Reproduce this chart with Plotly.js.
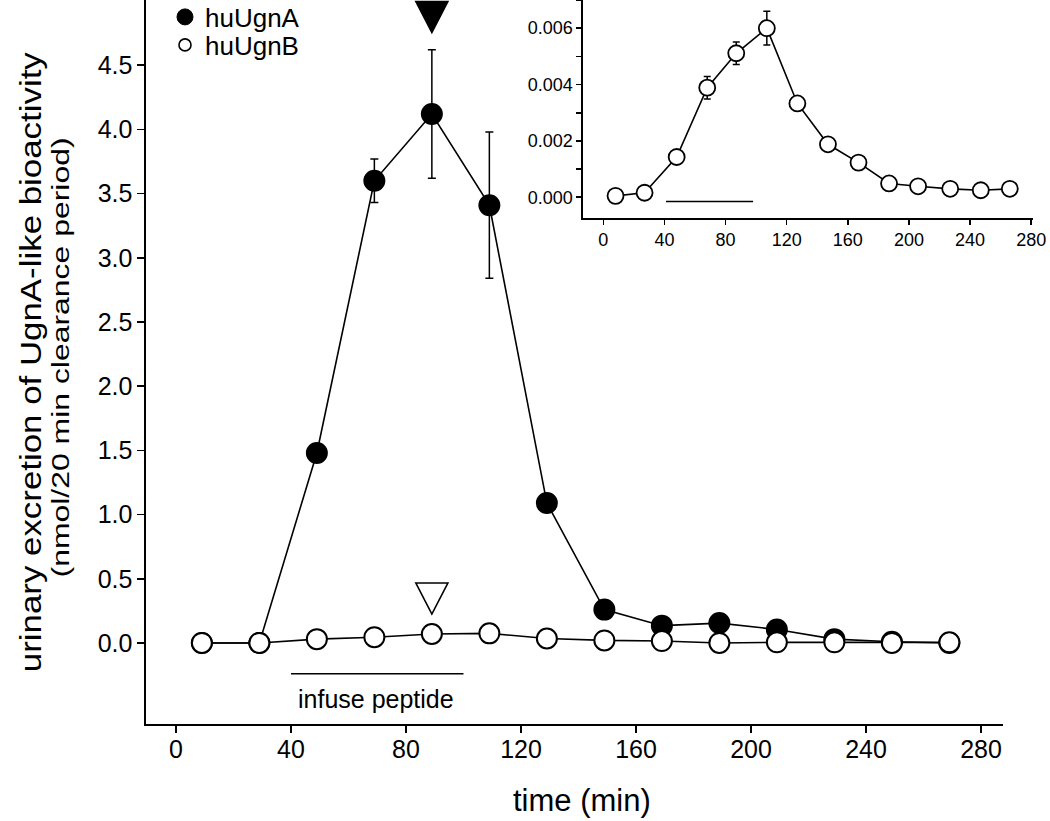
<!DOCTYPE html>
<html>
<head>
<meta charset="utf-8">
<script src="https://cdn.plot.ly/plotly-3.0.1.min.js"></script>
<style>
  html, body { margin: 0; padding: 0; background: #fff; }
  #chart { width: 1050px; height: 821px; }
</style>
</head>
<body>
<div id="chart"></div>
<script>
// ---------- data ----------
const time = [9, 29, 49, 69, 89, 109, 129, 149, 169, 189, 209, 229, 249, 269];
const huUgnA = [0.00, 0.00, 1.48, 3.60, 4.12, 3.41, 1.09, 0.26, 0.135, 0.155, 0.105, 0.03, 0.01, 0.00];
const huUgnAErr = [0, 0, 0, 0.17, 0.50, 0.57, 0, 0, 0, 0, 0, 0, 0, 0];
const huUgnB = [0.00, 0.00, 0.03, 0.045, 0.07, 0.075, 0.035, 0.02, 0.015, 0.00, 0.005, 0.005, 0.00, 0.005];

const insetTime = [8, 27, 48, 68, 87, 107, 127, 147, 167, 187, 206, 227, 247, 266];
const insetB = [0.00005, 0.00016, 0.00143, 0.00389, 0.00511, 0.0060, 0.00333, 0.00188, 0.00123, 0.00049, 0.00039, 0.00030, 0.00025, 0.00030];
const insetBErr = [0, 0, 0, 0.0004, 0.0004, 0.0006, 0, 0, 0, 0, 0, 0, 0, 0];

const infuseX = [40, 100];
const infuseY = [-0.24, -0.24];
const infuseLabel = 'infuse peptide';
const infuseLabelX = 69.5;
const infuseLabelY = -0.44;

const insetInfuseX = [41, 98];
const insetInfuseY = [-0.00015, -0.00015];

const triX = [89, 89];
const triY = [4.88, 0.35];
const triFill = ['black', 'white'];

const seriesNames = ['huUgnA', 'huUgnB'];
const xTitle = 'time (min)';
const yTitle = 'urinary excretion of UgnA-like bioactivity';
const ySubTitle = '(nmol/20 min clearance period)';

const mainXTicks = [0, 40, 80, 120, 160, 200, 240, 280];
const mainYTicks = [0, 0.5, 1, 1.5, 2, 2.5, 3, 3.5, 4, 4.5];
const insetXTicks = [0, 40, 80, 120, 160, 200, 240, 280];
const insetYTicks = [0, 0.002, 0.004, 0.006];

// ---------- style ----------
const FONT = 'Liberation Sans, Arial, Helvetica, sans-serif';
const LW = 1.6;

const traces = [
  {
    x: infuseX, y: infuseY, mode: 'lines', xaxis: 'x', yaxis: 'y',
    line: { color: 'black', width: LW }, showlegend: false, hoverinfo: 'skip'
  },
  {
    x: time, y: huUgnA, mode: 'lines+markers', name: seriesNames[0], xaxis: 'x', yaxis: 'y',
    line: { color: 'black', width: LW },
    marker: { symbol: 'circle', size: 20, color: 'black', line: { color: 'black', width: 2 } },
    error_y: { type: 'data', array: huUgnAErr, visible: true, color: 'black', thickness: 1.5, width: 4 },
    showlegend: false
  },
  {
    x: time, y: huUgnB, mode: 'lines+markers', name: seriesNames[1], xaxis: 'x', yaxis: 'y',
    line: { color: 'black', width: LW },
    marker: { symbol: 'circle', size: 20, color: 'white', line: { color: 'black', width: 2 } },
    showlegend: false
  },
  // inset
  {
    x: insetInfuseX, y: insetInfuseY, mode: 'lines', xaxis: 'x2', yaxis: 'y2',
    line: { color: 'black', width: LW }, showlegend: false, hoverinfo: 'skip'
  },
  {
    x: insetTime, y: insetB, mode: 'lines+markers', name: seriesNames[1], xaxis: 'x2', yaxis: 'y2',
    line: { color: 'black', width: LW },
    marker: { symbol: 'circle', size: 16, color: 'white', line: { color: 'black', width: 1.8 } },
    error_y: { type: 'data', array: insetBErr, visible: true, color: 'black', thickness: 1.5, width: 3.5 },
    showlegend: false
  },
  // legend-only entries
  {
    x: [null], y: [null], mode: 'markers', name: seriesNames[0], xaxis: 'x', yaxis: 'y',
    legend: 'legend',
    marker: { symbol: 'circle', size: 16, color: 'black', line: { color: 'black', width: 1 } }
  },
  {
    x: [null], y: [null], mode: 'markers', name: seriesNames[1], xaxis: 'x', yaxis: 'y',
    legend: 'legend2',
    marker: { symbol: 'circle', size: 12, color: 'white', line: { color: 'black', width: 1.6 } }
  }
];

// triangles: anchored at data coordinates, drawn with fixed pixel size
const shapes = triX.map((tx, i) => ({
  type: 'path', xref: 'x', yref: 'y',
  xsizemode: 'pixel', ysizemode: 'pixel',
  xanchor: tx, yanchor: triY[i],
  path: 'M-16,15 L16,15 L0,-16 Z',
  fillcolor: triFill[i],
  line: { color: 'black', width: 1.6 }
}));

const legendBase = {
  xanchor: 'left', yanchor: 'middle',
  bgcolor: 'rgba(0,0,0,0)', borderwidth: 0,
  font: { family: FONT, size: 26, color: 'black' }
};

const layout = {
  width: 1050, height: 821,
  margin: { l: 146, r: 10, t: 0, b: 97, autoexpand: false },
  paper_bgcolor: 'white', plot_bgcolor: 'rgba(0,0,0,0)',
  font: { family: FONT, color: 'black' },
  showlegend: true,
  legend: Object.assign({}, legendBase, { x: (165 - 146) / 894, y: 1 - 17 / 724 }),
  legend2: Object.assign({}, legendBase, { x: (165 - 146) / 894, y: 1 - 45 / 724 }),
  xaxis: {
    domain: [0, 0.9586], range: [-10.43, 287.65],
    showline: true, linecolor: 'black', linewidth: 1.6,
    ticks: 'outside', ticklen: 7, tickwidth: 1.6, tickcolor: 'black',
    tickvals: mainXTicks, ticktext: mainXTicks.map(String),
    tickfont: { family: FONT, size: 25 }, ticklabelstandoff: -5,
    showgrid: false, zeroline: false
  },
  yaxis: {
    domain: [0, 1], range: [-0.631, 5.008],
    showline: true, linecolor: 'black', linewidth: 1.6,
    ticks: 'outside', ticklen: 7, tickwidth: 1.6, tickcolor: 'black',
    tickvals: mainYTicks, ticktext: mainYTicks.map(v => v.toFixed(1)),
    tickfont: { family: FONT, size: 25 },
    showgrid: false, zeroline: false
  },
  xaxis2: {
    domain: [0.4888, 0.9922], range: [-13.3, 281.2], anchor: 'y2',
    showline: true, linecolor: 'black', linewidth: 1.6,
    ticks: 'outside', ticklen: 5, tickwidth: 1.6, tickcolor: 'black',
    tickvals: insetXTicks, ticktext: insetXTicks.map(String),
    tickfont: { family: FONT, size: 18 },
    showgrid: false, zeroline: false
  },
  yaxis2: {
    domain: [0.6989, 1], range: [-0.000735, 0.0070], anchor: 'x2',
    showline: true, linecolor: 'black', linewidth: 1.6,
    ticks: 'outside', ticklen: 5, tickwidth: 1.6, tickcolor: 'black',
    tickvals: insetYTicks, ticktext: insetYTicks.map(v => v.toFixed(3)),
    tickfont: { family: FONT, size: 18 },
    minor: { dtick: 0.001, tick0: 0, ticks: 'outside', ticklen: 5, tickwidth: 1.6, tickcolor: 'black', showgrid: false },
    showgrid: false, zeroline: false
  },
  shapes: shapes,
  annotations: [
    {
      text: infuseLabel, x: infuseLabelX, y: infuseLabelY, xref: 'x', yref: 'y',
      showarrow: false, font: { family: FONT, size: 25 }, xanchor: 'center', yanchor: 'middle'
    },
    {
      text: xTitle, x: 0.4877, y: -0.105, xref: 'paper', yref: 'paper',
      showarrow: false, font: { family: FONT, size: 31 }, xanchor: 'center', yanchor: 'middle'
    },
    {
      text: yTitle, x: (30 - 146) / 894, y: 1 - 362 / 724, xref: 'paper', yref: 'paper', textangle: -90,
      showarrow: false, font: { family: FONT, size: 30 }, xanchor: 'center', yanchor: 'middle'
    },
    {
      text: ySubTitle, x: (61 - 146) / 894, y: 1 - 358 / 724, xref: 'paper', yref: 'paper', textangle: -90,
      showarrow: false, font: { family: FONT, size: 23 }, xanchor: 'center', yanchor: 'middle'
    }
  ]
};

// lengths (px) of the stretched rotated title lines, as in the reference
const titleLengths = {};
titleLengths[yTitle] = 620;
titleLengths[ySubTitle] = 440;

Plotly.newPlot('chart', traces, layout, { displayModeBar: false, staticPlot: true }).then(gd => {
  gd.querySelectorAll('text.annotation-text').forEach(t => {
    const len = titleLengths[t.textContent];
    if (len) {
      t.setAttribute('textLength', len);
      t.setAttribute('lengthAdjust', 'spacingAndGlyphs');
    }
  });
});
</script>
</body>
</html>
